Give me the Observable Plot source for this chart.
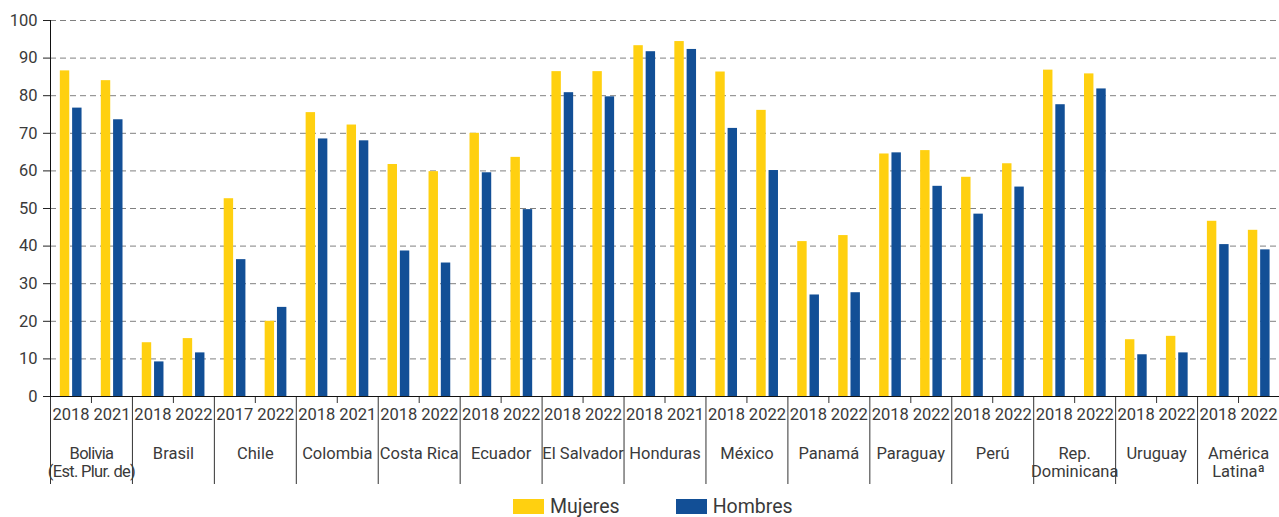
<!DOCTYPE html>
<html><head><meta charset="utf-8">
<script src="https://cdn.jsdelivr.net/npm/d3@7"></script>
<script src="https://cdn.jsdelivr.net/npm/@observablehq/plot@0.6"></script>
<style>
body{margin:0;background:#fff;font-family:Roboto,sans-serif;color:#3a3a3a;}
#legend{display:flex;align-items:center;height:21px;padding-top:8px;padding-left:513px;font-size:19.5px;}
.sw{width:31px;height:15px;display:inline-block;margin-right:6px;}
.item{display:flex;align-items:center;margin-right:56px;}
</style>
</head><body><div id="chart"></div><div id="legend"></div>
<script>
const countries = ["Bolivia\n(Est. Plur. de)", "Brasil", "Chile", "Colombia", "Costa Rica", "Ecuador", "El Salvador", "Honduras", "México", "Panamá", "Paraguay", "Perú", "Rep.\nDominicana", "Uruguay", "América\nLatinaª"];
const years = ["2018","2021", "2018","2022", "2017","2022", "2018","2021", "2018","2022", "2018","2022", "2018","2022", "2018","2021", "2018","2022", "2018","2022", "2018","2022", "2018","2022", "2018","2022", "2018","2022", "2018","2022"];
const mujeres = [86.6, 84.0, 14.3, 15.4, 52.6, 20.0, 75.5, 72.2, 61.7, 59.8, 70.0, 63.6, 86.4, 86.4, 93.3, 94.4, 86.3, 76.1, 41.2, 42.8, 64.5, 65.4, 58.3, 61.9, 86.8, 85.8, 15.1, 16.0, 46.6, 44.2];
const hombres = [76.7, 73.6, 9.2, 11.6, 36.4, 23.7, 68.5, 68.0, 38.7, 35.5, 59.5, 49.7, 80.8, 79.7, 91.7, 92.3, 71.3, 60.1, 27.0, 27.6, 64.8, 55.9, 48.5, 55.7, 77.6, 81.8, 11.1, 11.6, 40.4, 39.0];
const series = ["Mujeres", "Hombres"];
const colors = ["#ffd010", "#124f96"];

const rows = [];
years.forEach((y, i) => {
  rows.push({slot: i, country: countries[Math.floor(i/2)], year: y, sex: "Mujeres", value: mujeres[i], off: 0.24});
  rows.push({slot: i, country: countries[Math.floor(i/2)], year: y, sex: "Hombres", value: hombres[i], off: 0.54});
});

const ink = "#3a3a3a";
const chart = Plot.plot({
  width: 1279, height: 488,
  marginLeft: 50, marginRight: 0, marginTop: 20, marginBottom: 92,
  style: {fontSize: "16.5px", fontFamily: "Roboto,sans-serif", color: ink, background: "#fff"},
  x: {type: "linear", domain: [0, 30], label: null},
  y: {domain: [0, 100], label: null},
  color: {domain: series, range: colors},
  marks: [
    Plot.gridY({ticks: d3.range(10, 101, 10), stroke: "#808080", strokeOpacity: 1, strokeDasharray: "6,4"}),
    Plot.rectY(rows, {x1: d => d.slot + d.off, x2: d => d.slot + d.off + 0.23, y: "value", fill: "sex"}),
    Plot.axisY({ticks: d3.range(0, 101, 10), tickSize: 7, tickPadding: 6, label: null, stroke: "#222"}),
    Plot.axisX({ticks: d3.range(0, 31, 2), tickSize: 88, tickFormat: () => "", label: null, stroke: "#333"}),
    Plot.axisX({ticks: d3.range(1, 30, 2), tickSize: 7, tickFormat: () => "", label: null, stroke: "#333"}),
    Plot.axisX({ticks: d3.range(30).map(i => i + 0.5), tickSize: 0, tickPadding: 12, tickFormat: d => years[Math.floor(d)], label: null}),
    Plot.axisX({ticks: d3.range(1, 30, 2), tickSize: 0, tickPadding: 49, tickFormat: d => countries[(d - 1) / 2], label: null, lineHeight: 1.12}),
    Plot.ruleY([0], {stroke: "#111"}),
    Plot.ruleX([0], {stroke: "#111"})
  ]
});
d3.select(chart).selectAll("text").filter(function() { return this.textContent.includes("Est."); })
  .style("letter-spacing", "-0.7px");
document.getElementById("chart").append(chart);

const legend = document.getElementById("legend");
series.forEach((s, i) => {
  const item = document.createElement("span");
  item.className = "item";
  const sw = document.createElement("span");
  sw.className = "sw";
  sw.style.background = colors[i];
  item.append(sw, document.createTextNode(s));
  legend.append(item);
});
</script>
</body></html>
